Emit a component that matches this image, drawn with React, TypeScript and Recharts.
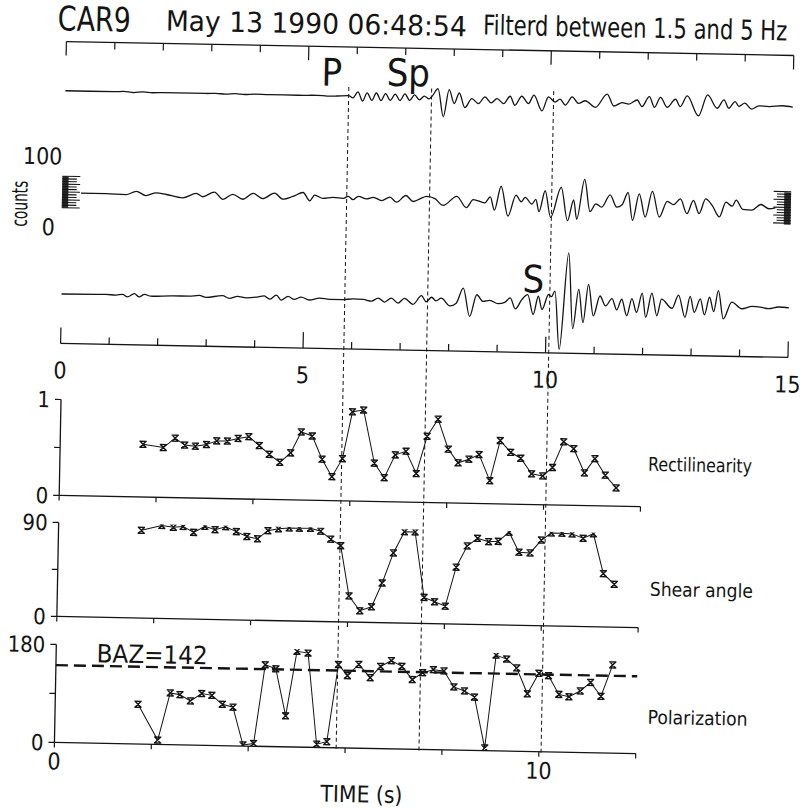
import React from "react";
import { LineChart, Line, XAxis, YAxis, ReferenceLine, ReferenceArea } from "recharts";

const FONT =
  "'Liberation Sans Narrow', 'Arial Narrow', 'DejaVu Sans Condensed', 'Liberation Sans', Arial, sans-serif";
const INK = "#141414";

type Pair = [number, number];

// Record section: turning points of the three filtered components (time s, amplitude counts)
const trace1: Pair[] = [
  [0, 0], [1.0, 0], [1.2, 0.6], [1.4, -0.6], [1.6, 0.5], [1.8, -0.4], [2.0, 0], [2.9, 0], [3.1, 0.5],
  [3.3, -0.5], [3.5, 0.5], [3.7, -0.4], [3.9, 0.3], [4.2, 0], [4.8, 0], [5.2, 0.4], [5.4, -0.4], [5.6, 0],
  [5.84, 0.8], [5.93, -2], [6.03, 6], [6.13, -6], [6.22, 5], [6.32, -5], [6.41, 5], [6.51, -5], [6.6, 4.5],
  [6.7, -4.5], [6.8, 4], [6.9, -4.5], [7.0, 4.5], [7.1, -4], [7.2, 3.5], [7.3, -3], [7.4, 2], [7.5, -1.5],
  [7.57, 3], [7.68, 12.4], [7.8, -25], [7.91, 11.3], [8.02, -7.1], [8.12, 7.1], [8.24, -12.2], [8.38, 0],
  [8.52, -6.5], [8.65, 2.5], [8.78, -5.3], [8.9, 0.6], [9.04, -5.9], [9.17, 4.1], [9.27, -7.8], [9.41, 4.4],
  [9.55, -5.2], [9.66, 6.1], [9.83, -14.6], [9.96, 4.2], [10.1, -2.5], [10.2, 1.5], [10.31, -6.3], [10.45, 4.9],
  [10.58, -3.7], [10.72, 0], [10.93, -8.6], [11.17, 9.5], [11.31, -6.3], [11.48, -1.6], [11.62, -3.3],
  [11.79, 2.3], [11.89, -6.4], [12.04, 7.1], [12.15, -7], [12.27, 6.5], [12.41, -6.6], [12.58, 4.3],
  [12.68, -5.4], [12.82, 9], [13.06, -17.3], [13.24, 10.9], [13.44, -6.6], [13.58, 4.7], [13.68, -6.3],
  [13.81, 2.8], [13.89, -3.7], [14.01, 0.8], [14.15, -6.9], [14.3, -2.4], [14.51, -3], [14.79, -1.6], [15.0, -3.2],
];

const trace2: Pair[] = [
  [0.36, 0], [0.88, -0.1], [1.29, -0.9], [1.5, 3.8], [1.7, -1.6], [1.91, 2.2], [2.12, 0.3], [2.46, -3.7],
  [2.74, 2.5], [2.87, -1.8], [3.11, 4.8], [3.29, -4.7], [3.49, 2.2], [3.7, -4.1], [3.91, 4.1], [4.11, -2.7],
  [4.35, 4.8], [4.53, -3], [4.73, 0.9], [4.94, 6.5], [5.08, -4.4], [5.18, 3.3], [5.35, -0.9], [5.56, 0.7],
  [5.77, -0.3], [5.87, 2.5], [5.97, -1.8], [6.08, 2.8], [6.25, -0.5], [6.39, 1.9], [6.56, -2.3], [6.73, 2.4],
  [6.87, -4.1], [7.06, 5.1], [7.21, -2.7], [7.35, 1], [7.49, 4.4], [7.66, 1.6], [7.83, -7.1], [8.11, 5.3],
  [8.31, -9.5], [8.45, 1.4], [8.69, -2.7], [8.8, 5.4], [8.89, -12.2], [9.02, 19.9], [9.17, -19.8], [9.33, 8.4],
  [9.44, -0.3], [9.52, 5.6], [9.66, -3.1], [9.74, 3.2], [9.81, -13.1], [9.93, 15], [10.05, -20.3],
  [10.26, 19.9], [10.4, -24.3], [10.52, 3.4], [10.59, -22.2], [10.74, 31.3], [10.86, -11.6], [10.98, -1.2],
  [11.1, -5.5], [11.27, 11.1], [11.41, -5.1], [11.52, -1.8], [11.64, 14.8], [11.74, -22.4], [11.87, 13.3],
  [12.0, -17.6], [12.14, 16.8], [12.29, -17.1], [12.45, 4], [12.58, -0.3], [12.72, 7.5], [12.86, -11.9],
  [12.99, 6], [13.11, -11.5], [13.24, 8.2], [13.38, -0.5], [13.53, -15.4], [13.66, 4.4], [13.79, -0.8],
  [13.87, 7.3], [14.01, -4.9], [14.2, -5.6], [14.38, 2.2], [14.55, -3.3], [14.68, -1.8],
];

const trace3: Pair[] = [
  [0, 0], [0.91, 0.5], [1.12, 0], [1.26, 1], [1.36, -2.3], [1.5, 2.3], [1.6, -2], [1.71, 1.7], [1.84, -0.7],
  [2.29, 0.3], [2.63, 0.4], [2.84, 1.6], [2.98, -0.8], [3.32, 1.9], [3.46, -1.5], [3.63, 1.4], [3.81, -0.5],
  [4.01, 0.7], [4.18, 2.7], [4.29, -1.6], [4.43, 4], [4.53, -2.6], [4.67, 2.5], [4.8, -1.3], [4.94, 2],
  [5.11, -1.7], [5.32, 1.2], [5.53, -0.2], [5.8, -0.3], [6.01, 0.9], [6.22, 0.4], [6.39, -1.6], [6.53, 2.6],
  [6.66, -2.5], [6.8, 3], [6.94, -3.5], [7.07, 3], [7.25, -4.8], [7.42, 7], [7.52, -1], [7.63, 5.1],
  [7.72, 0.5], [7.83, 4.1], [8.01, -5.9], [8.14, -2.1], [8.28, 18.1], [8.42, -19.5], [8.56, 9.6], [8.69, 0.9],
  [8.83, 2.4], [9.0, -1.7], [9.14, 0.2], [9.25, 6.2], [9.36, -8.3], [9.49, 4.3], [9.61, 11.1], [9.73, -15.3],
  [9.83, 9.2], [9.91, -8.4], [10.04, 11.8], [10.1, 9], [10.17, 16.4], [10.28, -61.1], [10.44, 67.8],
  [10.55, -33.2], [10.66, 19.4], [10.76, -24.9], [10.86, 26.3], [10.97, -15.7], [11.1, 11.1], [11.22, -2],
  [11.35, 7.9], [11.45, -7], [11.55, 7.3], [11.66, -14.7], [11.76, 8.5], [11.86, -9.9], [11.97, 15.9],
  [12.05, -16.3], [12.17, 16.2], [12.28, -13.8], [12.37, 8.5], [12.59, -3.6], [12.72, 14.4], [12.86, -15.1],
  [12.96, 13], [13.05, -8.2], [13.17, 9.7], [13.26, -11.5], [13.36, 12.2], [13.45, -6.7], [13.54, 21.4],
  [13.65, -16.2], [13.82, 6.3], [14.03, -2.3], [14.24, 1.1], [14.41, 0.4], [14.58, -1.5], [14.79, 1], [15.0, 0],
];

// Vertical placement of each trace in the record section (counts)
const traceOffsets = [337, 201, 66];
const sectionTicks = [0, 1, 2, 3, 4, 5, 6, 7, 8, 9, 10, 11, 12, 13, 14, 15];
const sectionLabels = [0, 5, 10, 15];

// Picked phases
const phaseLabels = ["P", "Sp", "S"];
const phaseTimes = [5.84, 7.55, 10.07];

// Particle-motion analysis windows
const windowTime = [
  1.71, 2.13, 2.37, 2.57, 2.79, 3.02, 3.23, 3.45, 3.67, 3.89, 4.11, 4.32, 4.54, 4.76, 4.97, 5.2, 5.41, 5.62,
  5.83, 6.02, 6.25, 6.49, 6.7, 6.92, 7.14, 7.36, 7.57, 7.79, 8.01, 8.22, 8.44, 8.65, 8.88, 9.08, 9.3, 9.51,
  9.74, 9.97, 10.17, 10.39, 10.6, 10.83, 11.04, 11.26, 11.49,
];
const rectilinearity = [
  0.55, 0.52, 0.62, 0.55, 0.54, 0.56, 0.6, 0.6, 0.63, 0.65, 0.56, 0.47, 0.39, 0.49, 0.71, 0.67, 0.43, 0.25,
  0.44, 0.93, 0.95, 0.4, 0.25, 0.49, 0.53, 0.3, 0.69, 0.87, 0.56, 0.42, 0.46, 0.51, 0.24, 0.66, 0.54, 0.48,
  0.32, 0.3, 0.39, 0.66, 0.59, 0.34, 0.49, 0.32, 0.19,
];
const shearAngle = [
  84, 89, 87.5, 88.5, 83, 89, 86, 89, 84.5, 80, 78, 86, 88, 89, 89, 89, 86.5, 79, 73, 25, 11, 15, 38, 67,
  87.5, 87.5, 25, 21, 17, 54.5, 75, 82.5, 79.5, 80, 89, 70, 69.5, 82, 89, 89, 88.5, 84.5, 89, 51, 41,
];
const polarization = [
  73, 8, 95, 92, 81, 95, 92, 76, 71, 2, 5, 150, 143, 57, 176, 173, 6, 11, 153, 133, 154, 130, 151, 162, 152,
  128, 141, 147, 145, 116, 109, 98, 5, 176, 169, 153, 106, 144, 140, 106, 102, 113, 129, 104, 162,
];
const backAzimuth = 142;
const panelTimeTicks = [0, 2, 4, 6, 8, 10, 12];
const panelTimeLabels = [0, 10];

// Decorative amplitude combs at both ends of the middle trace (counts relative to the trace)
const combLevels = [-20, -16.5, -13, -9.5, -6, -2.5, 1, 4.5, 8, 11.5, 15, 18.5, 22];

const windowRows = windowTime.map((t, i) => ({
  t,
  rect: rectilinearity[i],
  shear: shearAngle[i],
  polar: polarization[i],
}));
const toRows = (pairs: Pair[], offset: number) => pairs.map(([t, c]) => ({ t, v: c + offset }));
const traceRows = [trace1, trace2, trace3].map((tr, i) => toRows(tr, traceOffsets[i]));
const phaseRows = phaseTimes.map((t, i) => ({ t, name: phaseLabels[i], level: 0.5 }));

// Layout (px)
const SEC_LEFT = 59.5;
const SEC_PX = 48.5;
const SEC_TOP = 48;
const SEC_H = 302;
const COUNT_PX = 0.75;
const SEC_COUNTS = SEC_H / COUNT_PX;
const PANEL_LEFT = 61;
const PANEL_PX = 48.45;

function SectionBottomTick(props: any) {
  const { x, y, payload } = props;
  const major = sectionLabels.includes(payload.value);
  return (
    <g>
      <line x1={x} x2={x} y1={y} y2={y - (major ? 16 : 7)} stroke={INK} strokeWidth={1.2} />
      {major && (
        <text x={x} y={y + 35} textAnchor="middle" fontSize={23} fontFamily={FONT} fill={INK}>
          {payload.value}
        </text>
      )}
    </g>
  );
}

function PanelTimeTick(props: any) {
  const { x, y, payload, labelled } = props;
  return (
    <g>
      <line x1={x} x2={x} y1={y} y2={y + 5} stroke={INK} strokeWidth={1.2} />
      {labelled && panelTimeLabels.includes(payload.value) && (
        <text x={x} y={y + 27} textAnchor="middle" fontSize={23} fontFamily={FONT} fill={INK}>
          {payload.value}
        </text>
      )}
    </g>
  );
}

function PanelValueTick(props: any) {
  const { x, y, payload, yMax } = props;
  const v = payload.value;
  return (
    <g>
      <line x1={x} x2={x - 6} y1={y} y2={y} stroke={INK} strokeWidth={1.2} />
      {(v === 0 || v === yMax) && (
        <text x={x - 11} y={y} dy="0.36em" textAnchor="end" fontSize={22} fontFamily={FONT} fill={INK}>
          {v}
        </text>
      )}
    </g>
  );
}

function WindowMarker(props: any) {
  const { cx, cy } = props;
  if (cx == null || cy == null) return <g />;
  const d = `M${cx - 3},${cy - 3}L${cx + 3},${cy + 3}M${cx - 3},${cy + 3}L${cx + 3},${cy - 3}M${cx - 3.6},${cy - 3}H${cx + 3.6}M${cx - 3.6},${cy + 3}H${cx + 3.6}`;
  return <path d={d} stroke={INK} strokeWidth={1.4} fill="none" />;
}

function RecordSection() {
  const off2 = traceOffsets[1];
  const leftCol = [-0.03, 0.1];
  const rightCol = [14.86, 15.0];
  return (
    <div style={{ position: "absolute", left: 0, top: 0 }}>
      <LineChart
        width={800}
        height={400}
        margin={{
          top: SEC_TOP,
          right: 800 - SEC_LEFT - 15 * SEC_PX,
          left: SEC_LEFT,
          bottom: 400 - SEC_TOP - SEC_H - 1,
        }}
        style={{ fontFamily: FONT }}
      >
        <XAxis
          xAxisId="bottom"
          orientation="bottom"
          type="number"
          dataKey="t"
          domain={[0, 15]}
          ticks={sectionTicks}
          interval={0}
          height={1}
          tickSize={0}
          tickMargin={0}
          tickLine={false}
          axisLine={{ stroke: INK, strokeWidth: 1.3 }}
          tick={(p: any) => <SectionBottomTick {...p} />}
        />
        <YAxis hide type="number" domain={[0, SEC_COUNTS]} allowDataOverflow />
        {/* top time scale: axis line with ticks hanging into the section */}
        <ReferenceLine xAxisId="bottom" y={SEC_COUNTS} stroke={INK} strokeWidth={1.3} ifOverflow="visible" />
        {sectionTicks.map((s) => (
          <ReferenceLine
            key={`tt${s}`}
            xAxisId="bottom"
            segment={[
              { x: s, y: SEC_COUNTS },
              { x: s, y: SEC_COUNTS - (s % 5 === 0 ? 14 : 7) / COUNT_PX },
            ]}
            stroke={INK}
            strokeWidth={1.2}
            ifOverflow="visible"
          />
        ))}
        <ReferenceArea
          xAxisId="bottom"
          x1={leftCol[0]}
          x2={leftCol[1]}
          y1={off2 - 20}
          y2={off2 + 22}
          fill={INK}
          fillOpacity={0.9}
          stroke="none"
          ifOverflow="visible"
        />
        <ReferenceArea
          xAxisId="bottom"
          x1={rightCol[0]}
          x2={rightCol[1]}
          y1={off2 - 24}
          y2={off2 + 19}
          fill={INK}
          fillOpacity={0.9}
          stroke="none"
          ifOverflow="visible"
        />
        {combLevels.map((lv, i) => (
          <ReferenceLine
            key={`cl${i}`}
            xAxisId="bottom"
            segment={[
              { x: leftCol[0], y: off2 + lv },
              { x: i % 3 === 0 ? 0.34 : 0.27, y: off2 + lv },
            ]}
            stroke={INK}
            strokeWidth={1.1}
            ifOverflow="visible"
          />
        ))}
        {combLevels.map((lv, i) => (
          <ReferenceLine
            key={`cr${i}`}
            xAxisId="bottom"
            segment={[
              { x: i % 3 === 0 ? 14.64 : 14.71, y: off2 + lv - 2 },
              { x: rightCol[1], y: off2 + lv - 2 },
            ]}
            stroke={INK}
            strokeWidth={1.1}
            ifOverflow="visible"
          />
        ))}
        {traceRows.map((rows, i) => (
          <Line
            key={`trace${i}`}
            xAxisId="bottom"
            data={rows}
            dataKey="v"
            type="monotoneX"
            dot={false}
            stroke={INK}
            strokeWidth={1.3}
            isAnimationActive={false}
          />
        ))}
      </LineChart>
    </div>
  );
}

function AnalysisPanel(props: {
  top: number;
  height: number;
  marginTop: number;
  plotHeight: number;
  dataKey: string;
  yMax: number;
  yTicks: number[];
  showTime?: boolean;
  children?: React.ReactNode;
}) {
  const { top, height, marginTop, plotHeight, dataKey, yMax, yTicks, showTime, children } = props;
  return (
    <div style={{ position: "absolute", left: 0, top }}>
      <LineChart
        width={800}
        height={height}
        data={windowRows}
        margin={{
          top: marginTop,
          right: 800 - PANEL_LEFT - 12 * PANEL_PX,
          left: PANEL_LEFT - 40,
          bottom: height - marginTop - plotHeight - 1,
        }}
        style={{ fontFamily: FONT }}
      >
        <XAxis
          dataKey="t"
          type="number"
          domain={[0, 12]}
          ticks={panelTimeTicks}
          interval={0}
          height={1}
          tickSize={0}
          tickMargin={0}
          tickLine={false}
          axisLine={{ stroke: INK, strokeWidth: 1.3 }}
          tick={(p: any) => <PanelTimeTick {...p} labelled={!!showTime} />}
        />
        <YAxis
          type="number"
          domain={[0, yMax]}
          ticks={yTicks}
          interval={0}
          width={40}
          tickSize={0}
          tickMargin={0}
          tickLine={false}
          axisLine={{ stroke: INK, strokeWidth: 1.3 }}
          tick={(p: any) => <PanelValueTick {...p} yMax={yMax} />}
          allowDataOverflow
        />
        {children}
        <Line
          dataKey={dataKey}
          type="linear"
          stroke={INK}
          strokeWidth={1}
          dot={(p: any) => <WindowMarker key={`m${p.index}`} {...p} />}
          isAnimationActive={false}
        />
      </LineChart>
    </div>
  );
}

function PhaseLines() {
  const left = 59.8;
  return (
    <div style={{ position: "absolute", left: 0, top: 0, pointerEvents: "none" }}>
      <LineChart
        width={800}
        height={809}
        data={phaseRows}
        margin={{ top: 86, right: 800 - left - 15 * PANEL_PX, left, bottom: 59 }}
      >
        <XAxis hide type="number" dataKey="t" domain={[0, 15]} />
        <YAxis hide type="number" domain={[0, 1]} />
        <Line dataKey="level" stroke="none" dot={false} isAnimationActive={false} />
        {phaseTimes.map((t, i) => (
          <ReferenceLine key={phaseLabels[i]} x={t} stroke={INK} strokeWidth={1} strokeDasharray="4 3" />
        ))}
      </LineChart>
    </div>
  );
}

function Captions() {
  const base = { fontFamily: FONT, fill: INK } as const;
  return (
    <svg
      width={800}
      height={809}
      style={{ position: "absolute", left: 0, top: 0, pointerEvents: "none" }}
    >
      <text {...base} x={50.5} y={37} fontSize={34} textLength={73} lengthAdjust="spacingAndGlyphs">
        CAR9
      </text>
      <text
        {...base}
        x={0}
        y={0}
        fontSize={24}
        textLength={301}
        lengthAdjust="spacingAndGlyphs"
        transform="translate(158.5 35) scale(1 1.16)"
      >
        May 13 1990 06:48:54
      </text>
      <text
        {...base}
        x={0}
        y={0}
        fontSize={22}
        textLength={304}
        lengthAdjust="spacingAndGlyphs"
        transform="translate(476 33) scale(1 1.25)"
      >
        Filterd between 1.5 and 5 Hz
      </text>
      <text {...base} x={325.4} y={87} fontSize={38} textAnchor="middle">
        {phaseLabels[0]}
      </text>
      <text {...base} x={402} y={86} fontSize={38} textAnchor="middle">
        {phaseLabels[1]}
      </text>
      <text {...base} x={531} y={290} fontSize={38} textAnchor="middle">
        {phaseLabels[2]}
      </text>
      <text {...base} x={38} y={171} fontSize={23} textAnchor="middle">
        100
      </text>
      <text
        {...base}
        x={16}
        y={211}
        fontSize={22}
        textAnchor="middle"
        dominantBaseline="central"
        textLength={46}
        lengthAdjust="spacingAndGlyphs"
        transform="rotate(-90 16 211)"
      >
        counts
      </text>
      <text {...base} x={45} y={242} fontSize={23} textAnchor="middle">
        0
      </text>
      <text {...base} x={649.2} y={466} fontSize={19} textLength={104} lengthAdjust="spacingAndGlyphs">
        Rectilinearity
      </text>
      <text {...base} x={653.4} y={591} fontSize={19} textLength={103} lengthAdjust="spacingAndGlyphs">
        Shear angle
      </text>
      <text {...base} x={653.6} y={719} fontSize={19} textLength={100} lengthAdjust="spacingAndGlyphs">
        Polarization
      </text>
      <text {...base} x={101.5} y={668} fontSize={25} textLength={111} lengthAdjust="spacingAndGlyphs">
        {`BAZ=${backAzimuth}`}
      </text>
      <text {...base} x={328} y={803} fontSize={23} textLength={82} lengthAdjust="spacingAndGlyphs">
        TIME (s)
      </text>
    </svg>
  );
}

export default function App() {
  return (
    <div
      style={{
        position: "absolute",
        left: 0,
        top: 0,
        width: 800,
        height: 809,
        background: "#fff",
        transform: "rotate(1.1deg)",
        transformOrigin: "400px 404px",
        overflow: "visible",
      }}
    >
      <RecordSection />
      <AnalysisPanel top={380} height={150} marginTop={26} plotHeight={96} dataKey="rect" yMax={1} yTicks={[0, 0.5, 1]} />
      <AnalysisPanel top={500} height={150} marginTop={29} plotHeight={94} dataKey="shear" yMax={90} yTicks={[0, 45, 90]} />
      <AnalysisPanel
        top={620}
        height={170}
        marginTop={31}
        plotHeight={98}
        dataKey="polar"
        yMax={180}
        yTicks={[0, 90, 180]}
        showTime
      >
        <ReferenceLine y={backAzimuth} stroke={INK} strokeWidth={2.4} strokeDasharray="12 6" />
      </AnalysisPanel>
      <PhaseLines />
      <Captions />
    </div>
  );
}
